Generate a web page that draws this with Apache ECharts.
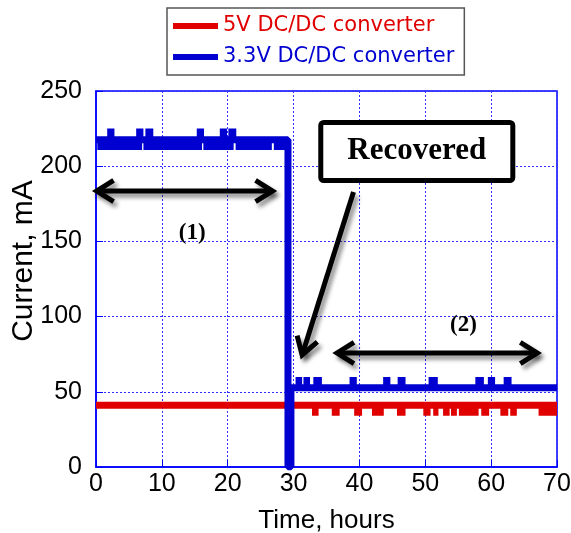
<!DOCTYPE html>
<html>
<head>
<meta charset="utf-8">
<script src="https://cdn.jsdelivr.net/npm/echarts@6/dist/echarts.min.js"></script>
<style>
html, body { margin: 0; padding: 0; background: #fff; }
#chart { width: 571px; height: 533px; }
</style>
</head>
<body>
<div id="chart"></div>
<script>
// tick labels
var xTicks = [0, 10, 20, 30, 40, 50, 60, 70];
var yTicks = [0, 50, 100, 150, 200, 250];

// 5V DC/DC converter (red)
var redTime = [0, 70];
var redCurrent = [41.0, 41.0];
var redDipLevel = 37.0;
var redDips = [[32.8, 33.8], [35.8, 37.0], [39.2, 40.4], [41.9, 43.7], [45.7, 47.0],
	[49.7, 50.8], [51.2, 52.0], [52.7, 53.7], [53.9, 54.8], [55.1, 58.1],
	[58.5, 59.7], [61.4, 62.6], [62.9, 63.9], [67.2, 70.0]];

// 3.3V DC/DC converter (blue)
var blueTime = [0, 29.15, 29.15, 29.6, 29.6, 70];
var blueCurrent = [217.6, 217.6, 0, 0, 52.7, 52.7];
var bluePeakHigh = 222.0;
var bluePeaksBefore = [[1.7, 2.8], [6.1, 7.2], [7.5, 8.7], [15.3, 16.4], [18.8, 19.9], [20.1, 21.3]];
var blueLowLevel = 213.8;
var blueLowsBefore = [[0.2, 7.0], [7.2, 16.1], [16.3, 20.9], [21.2, 26.7], [27.0, 29.1]];
var bluePeakLow = 56.9;
var bluePeaksAfter = [[30.3, 31.3], [31.5, 32.5], [33.0, 34.3], [38.5, 39.6], [43.6, 44.7],
	[45.8, 47.0], [50.5, 51.9], [57.6, 58.9], [59.5, 60.6], [61.9, 63.1]];

// annotations (data coordinates)
var recoveredBox = [34.13, 229.1, 63.29, 190.5];
var recoveredArrow = [[39.1, 182.9], [31.3, 74.5]];
var arrow1 = [[0.1, 183.5], [26.8, 183.5]];
var arrow2 = [[36.6, 75.8], [67.0, 75.8]];
var label1 = [14.6, 155.6];
var label2 = [55.8, 94.4];

var RED = "#e00000";
var BLUE = "#0000d0";

function toPairs(xs, ys) {
	return xs.map(function (x, i) { return [x, ys[i]]; });
}
function pulses(list, level) {
	var d = [];
	list.forEach(function (p) {
		d.push([p[0], level], [p[1], level], [p[1], null]);
	});
	return d;
}
function lineSeries(name, color, data, width) {
	return {
		name: name,
		type: "line",
		data: data,
		showSymbol: false,
		symbol: "none",
		connectNulls: false,
		lineStyle: { color: color, width: width || 7 },
		itemStyle: { color: color },
		animation: false
	};
}

var chart = echarts.init(document.getElementById("chart"));
var option = {
	animation: false,
	legend: {
		orient: "vertical",
		left: 167,
		top: 8,
		padding: [7, 10, 7, 6],
		itemGap: 9,
		itemWidth: 45,
		itemHeight: 6,
		icon: "rect",
		borderColor: "#555",
		borderWidth: 1.5,
		textStyle: { fontFamily: "DejaVu Sans", fontSize: 21, lineHeight: 22 },
		data: [
			{ name: "5V DC/DC converter", textStyle: { color: RED } },
			{ name: "3.3V DC/DC converter", textStyle: { color: BLUE } }
		]
	},
	grid: {
		left: 96,
		right: 14,
		top: 91,
		bottom: 66,
		outerBoundsMode: "none",
		show: true,
		borderColor: "#0000ff",
		borderWidth: 1.5
	},
	xAxis: {
		type: "value",
		min: xTicks[0],
		max: xTicks[xTicks.length - 1],
		interval: xTicks[1] - xTicks[0],
		name: "Time, hours",
		nameLocation: "middle",
		nameGap: 41,
		nameMoveOverlap: false,
		nameTextStyle: { color: "#000", fontFamily: "Liberation Sans", fontSize: 26 },
		axisLine: { lineStyle: { color: "#0000ff", width: 1.5 } },
		axisTick: { inside: true, length: 7, lineStyle: { color: "#0000ff" } },
		axisLabel: { color: "#000", fontFamily: "Liberation Sans", fontSize: 25, margin: 5 },
		splitLine: { show: true, lineStyle: { color: "#3030ff", type: [2, 2], width: 1 } }
	},
	yAxis: {
		type: "value",
		min: yTicks[0],
		max: yTicks[yTicks.length - 1],
		interval: yTicks[1] - yTicks[0],
		name: "Current, mA",
		nameLocation: "middle",
		nameGap: 57,
		nameMoveOverlap: false,
		nameTextStyle: { color: "#000", fontFamily: "Liberation Sans", fontSize: 30, padding: [0, 0, 0, 36] },
		axisLine: { lineStyle: { color: "#0000ff", width: 1.5 } },
		axisTick: { inside: true, length: 7, lineStyle: { color: "#0000ff" } },
		axisLabel: { color: "#000", fontFamily: "Liberation Sans", fontSize: 25, margin: 14 },
		splitLine: { show: true, lineStyle: { color: "#3030ff", type: [2, 2], width: 1 } }
	},
	series: [
		lineSeries("5V DC/DC converter", RED, toPairs(redTime, redCurrent)),
		lineSeries("5V DC/DC converter", RED, pulses(redDips, redDipLevel), 9),
		lineSeries("3.3V DC/DC converter", BLUE, toPairs(blueTime, blueCurrent)),
		lineSeries("3.3V DC/DC converter", BLUE, pulses(bluePeaksBefore, bluePeakHigh), 9),
		lineSeries("3.3V DC/DC converter", BLUE, pulses(blueLowsBefore, blueLowLevel), 9),
		lineSeries("3.3V DC/DC converter", BLUE, pulses(bluePeaksAfter, bluePeakLow), 9)
	]
};
chart.setOption(option);

// annotations placed through the axes
function px(p) {
	return chart.convertToPixel({ gridIndex: 0 }, p);
}
var shadow = {
	shadowBlur: 4,
	shadowColor: "rgba(0,0,0,0.45)",
	shadowOffsetX: 3,
	shadowOffsetY: 4
};
function strokeStyle() {
	return Object.assign({ stroke: "#000", lineWidth: 5, fill: null, lineJoin: "miter" }, shadow);
}
function head(tip, tail) {
	var dx = tail[0] - tip[0], dy = tail[1] - tip[1];
	var len = Math.sqrt(dx * dx + dy * dy);
	var ux = dx / len, uy = dy / len;
	var L = 20, a = 32 * Math.PI / 180;
	var c = Math.cos(a), s = Math.sin(a);
	var p1 = [tip[0] + L * (ux * c - uy * s), tip[1] + L * (ux * s + uy * c)];
	var p2 = [tip[0] + L * (ux * c + uy * s), tip[1] + L * (-ux * s + uy * c)];
	return { type: "polyline", z: 100, shape: { points: [p1, tip, p2] }, style: strokeStyle() };
}
function arrow(pts, both) {
	var a = px(pts[0]), b = px(pts[1]);
	var els = [
		{ type: "line", z: 100, shape: { x1: a[0], y1: a[1], x2: b[0], y2: b[1] }, style: strokeStyle() },
		head(b, a)
	];
	if (both) els.push(head(a, b));
	return els;
}
function label(txt, p, size) {
	var q = px(p);
	return {
		type: "text", z: 101, x: q[0], y: q[1],
		style: {
			text: txt, fill: "#000", fontFamily: "Liberation Serif", fontWeight: "bold",
			fontSize: size, align: "center", verticalAlign: "middle"
		}
	};
}

var b0 = px([recoveredBox[0], recoveredBox[1]]);
var b1 = px([recoveredBox[2], recoveredBox[3]]);
var graphics = [
	{
		type: "rect", z: 100,
		shape: { x: b0[0], y: b0[1], width: b1[0] - b0[0], height: b1[1] - b0[1], r: 3 },
		style: { fill: "#fff", stroke: "#000", lineWidth: 5 }
	},
	label("Recovered", [(recoveredBox[0] + recoveredBox[2]) / 2, (recoveredBox[1] + recoveredBox[3]) / 2], 31),
	label("(1)", label1, 23),
	label("(2)", label2, 23)
].concat(arrow(recoveredArrow, false), arrow(arrow1, true), arrow(arrow2, true));

chart.setOption({ graphic: graphics });
</script>
</body>
</html>
